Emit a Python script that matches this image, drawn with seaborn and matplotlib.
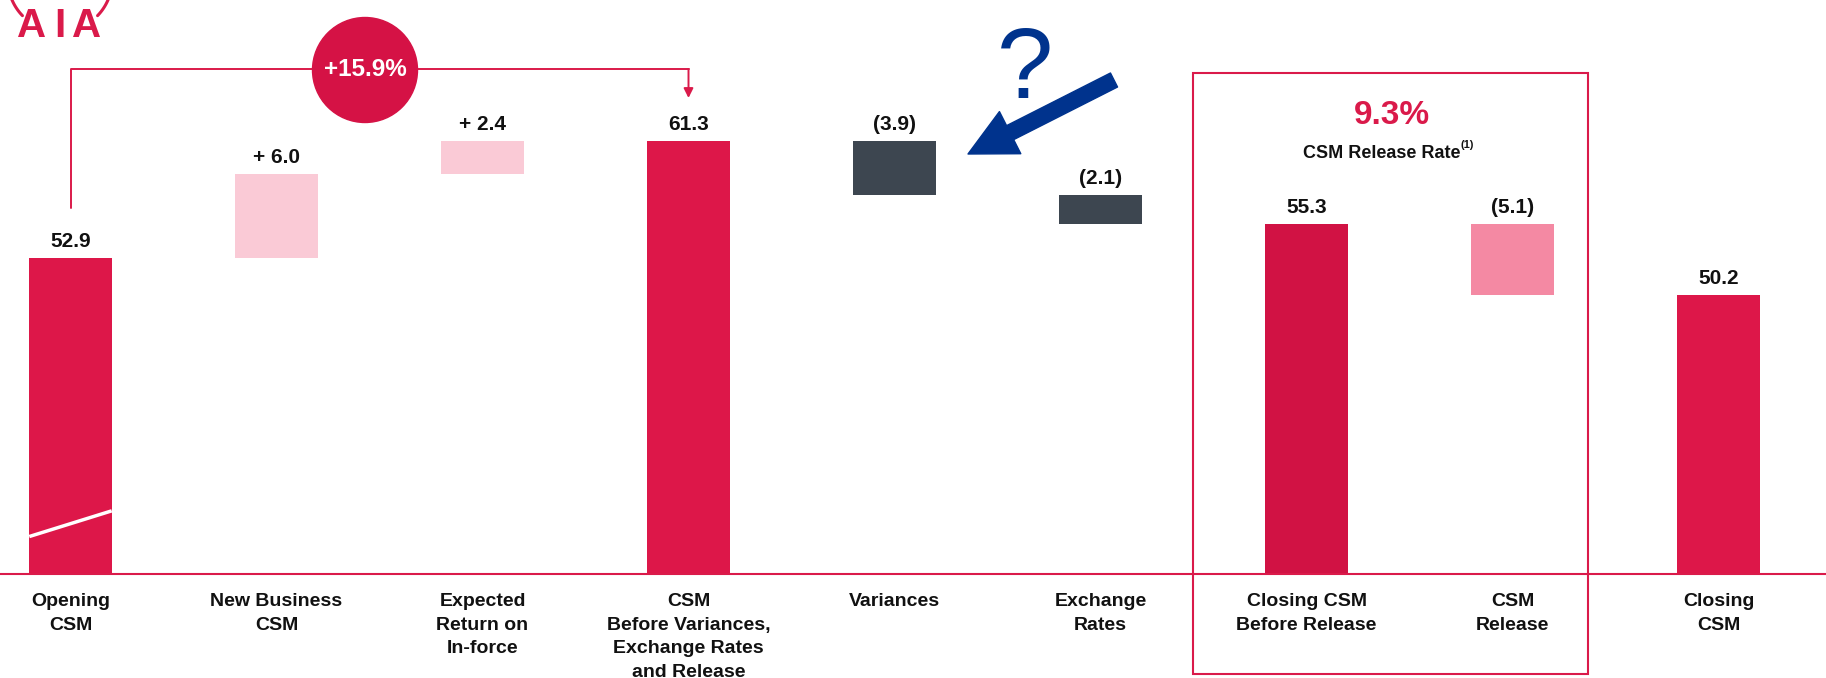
import matplotlib
matplotlib.use("Agg")
import numpy as np
import matplotlib.pyplot as plt
import seaborn as sns
import pandas as pd
from matplotlib.patches import Ellipse, Rectangle, FancyArrowPatch
from matplotlib.lines import Line2D

# ---------------- data ----------------
categories = ["Opening\nCSM", "New Business\nCSM", "Expected\nReturn on\nIn-force",
              "CSM\nBefore Variances,\nExchange Rates\nand Release", "Variances",
              "Exchange\nRates", "Closing CSM\nBefore Release", "CSM\nRelease", "Closing\nCSM"]
values = [52.9, 6.0, 2.4, 61.3, -3.9, -2.1, 55.3, -5.1, 50.2]
kinds = ["total", "inc", "inc", "total", "dec", "dec", "total_b", "release", "total"]
value_labels = ["52.9", "+ 6.0", "+ 2.4", "61.3", "(3.9)", "(2.1)", "55.3", "(5.1)", "50.2"]
growth_label = "+15.9%"
release_rate = "9.3%"
release_caption = "CSM Release Rate"

kind_colors = {"total": "#DD1749", "total_b": "#D11244", "inc": "#FACAD6",
               "dec": "#3D4650", "release": "#F489A3"}
CRIMSON = "#DA1A4A"
NAVY = "#00338D"

# waterfall geometry from values
bottoms, tops = [], []
running = 0.0
for v, k in zip(values, kinds):
    if k.startswith("total"):
        bottoms.append(0.0); tops.append(v); running = v
    else:
        new = running + v
        bottoms.append(min(running, new)); tops.append(max(running, new)); running = new

df = pd.DataFrame({"cat": categories, "top": tops, "bottom": bottoms, "kind": kinds})

# ---------------- figure ----------------
sns.set_theme(style="white")
plt.rcParams["font.family"] = ["Liberation Sans", "DejaVu Sans"]

W, H = 1826, 678
fig = plt.figure(figsize=(W / 100, H / 100), dpi=100)
base_px = 574
ax = fig.add_axes([0, 1 - base_px / H, 1, base_px / H])

sns.barplot(data=df, x="cat", y="top", hue="cat", order=categories,
            palette={c: kind_colors[k] for c, k in zip(categories, kinds)},
            dodge=False, width=0.4, legend=False, ax=ax, saturation=1)

for p in ax.patches:
    idx = int(round(p.get_x() + p.get_width() / 2))
    p.set_y(bottoms[idx])
    p.set_height(tops[idx] - bottoms[idx])
    p.set_edgecolor("none")

ymin = 30.1
ppu = 13.88
ax.set_ylim(ymin, ymin + base_px / ppu)
ax.set_xlim(-70.5 / 206, (W - 70.5) / 206)

for s in ["top", "left", "right"]:
    ax.spines[s].set_visible(False)
ax.spines["bottom"].set_color(CRIMSON)
ax.spines["bottom"].set_linewidth(1.5)
ax.set_yticks([])
ax.set_xlabel(""); ax.set_ylabel("")
ax.set_xticks(range(len(categories)))
ax.set_xticklabels(categories, fontweight="bold", fontsize=14, linespacing=1.5, color="#111111")
ax.tick_params(axis="x", length=0, pad=14)

# value labels
for i, lab in enumerate(value_labels):
    ax.annotate(lab, (i, tops[i]), xytext=(0, 5), textcoords="offset points",
                ha="center", va="bottom", fontsize=15, fontweight="bold", color="#111111")

# axis break mark on the first bar
ax.plot([-0.2, 0.2], [32.8, 34.65], color="white", lw=2.5, solid_capstyle="butt")

def yval(px):
    return ymin + (base_px - px) / ppu

# growth bracket
yb = yval(69)
ax.plot([0, 0, 3], [yval(208), yb, yb], color=CRIMSON, lw=1.4, clip_on=False)
ax.annotate("", xy=(3, yval(98)), xytext=(3, yb),
            arrowprops=dict(arrowstyle="-|>", color=CRIMSON, lw=1.4,
                            mutation_scale=14, shrinkA=0, shrinkB=0))
ax.add_patch(Ellipse(((365 - 70.5) / 206, yval(70)), 105 / 206, 105 / ppu,
                     color="#D51245", zorder=5))
ax.text((365 - 70.5) / 206, yval(70), growth_label, ha="center", va="center",
        color="white", fontsize=17.5, fontweight="bold", zorder=6)

# release box
fig.add_artist(Rectangle((1193 / W, 1 - 674 / H), (1588 - 1193) / W, (674 - 73) / H,
                         transform=fig.transFigure, fill=False, edgecolor=CRIMSON, lw=1.5))
fig.text(1392 / W, 1 - 115 / H, release_rate, ha="center", va="center",
         color=CRIMSON, fontsize=24, fontweight="bold")
t = fig.text(1382 / W, 1 - 153 / H, release_caption, ha="center", va="center",
             color="#111111", fontsize=13, fontweight="bold")
ax.annotate("(1)", xy=(1.0, 0.95), xycoords=t, ha="left", va="center",
            fontsize=8, fontweight="bold", color="#111111", annotation_clip=False)

# blue question mark and arrow
fig.text(1025 / W, 1 - 98 / H, "?", ha="center", va="baseline", color=NAVY, fontsize=73)
fig.add_artist(FancyArrowPatch((1114 / W, 1 - 80 / H), (968 / W, 1 - 154 / H),
                               transform=fig.transFigure,
                               arrowstyle="simple,head_length=34,head_width=34,tail_width=11.3",
                               mutation_scale=1, color=NAVY, shrinkA=0, shrinkB=0))

# AIA logo (partial)
for th1, th2 in [(198, 224), (316, 342)]:
    th = np.radians(np.linspace(th1, th2, 30))
    xs = (60 + 52.2 * np.cos(th)) / W
    ys = 1 - (-20.6 - 52.2 * np.sin(th)) / H
    fig.add_artist(Line2D(xs, ys, transform=fig.transFigure, color=CRIMSON, lw=2.2))
for xc, ch in [(32, "A"), (60, "I"), (87, "A")]:
    fig.text(xc / W, 1 - 37 / H, ch, ha="center", va="baseline", color=CRIMSON,
             fontsize=29, fontweight="bold")

fig.savefig("out.png", dpi=100)
